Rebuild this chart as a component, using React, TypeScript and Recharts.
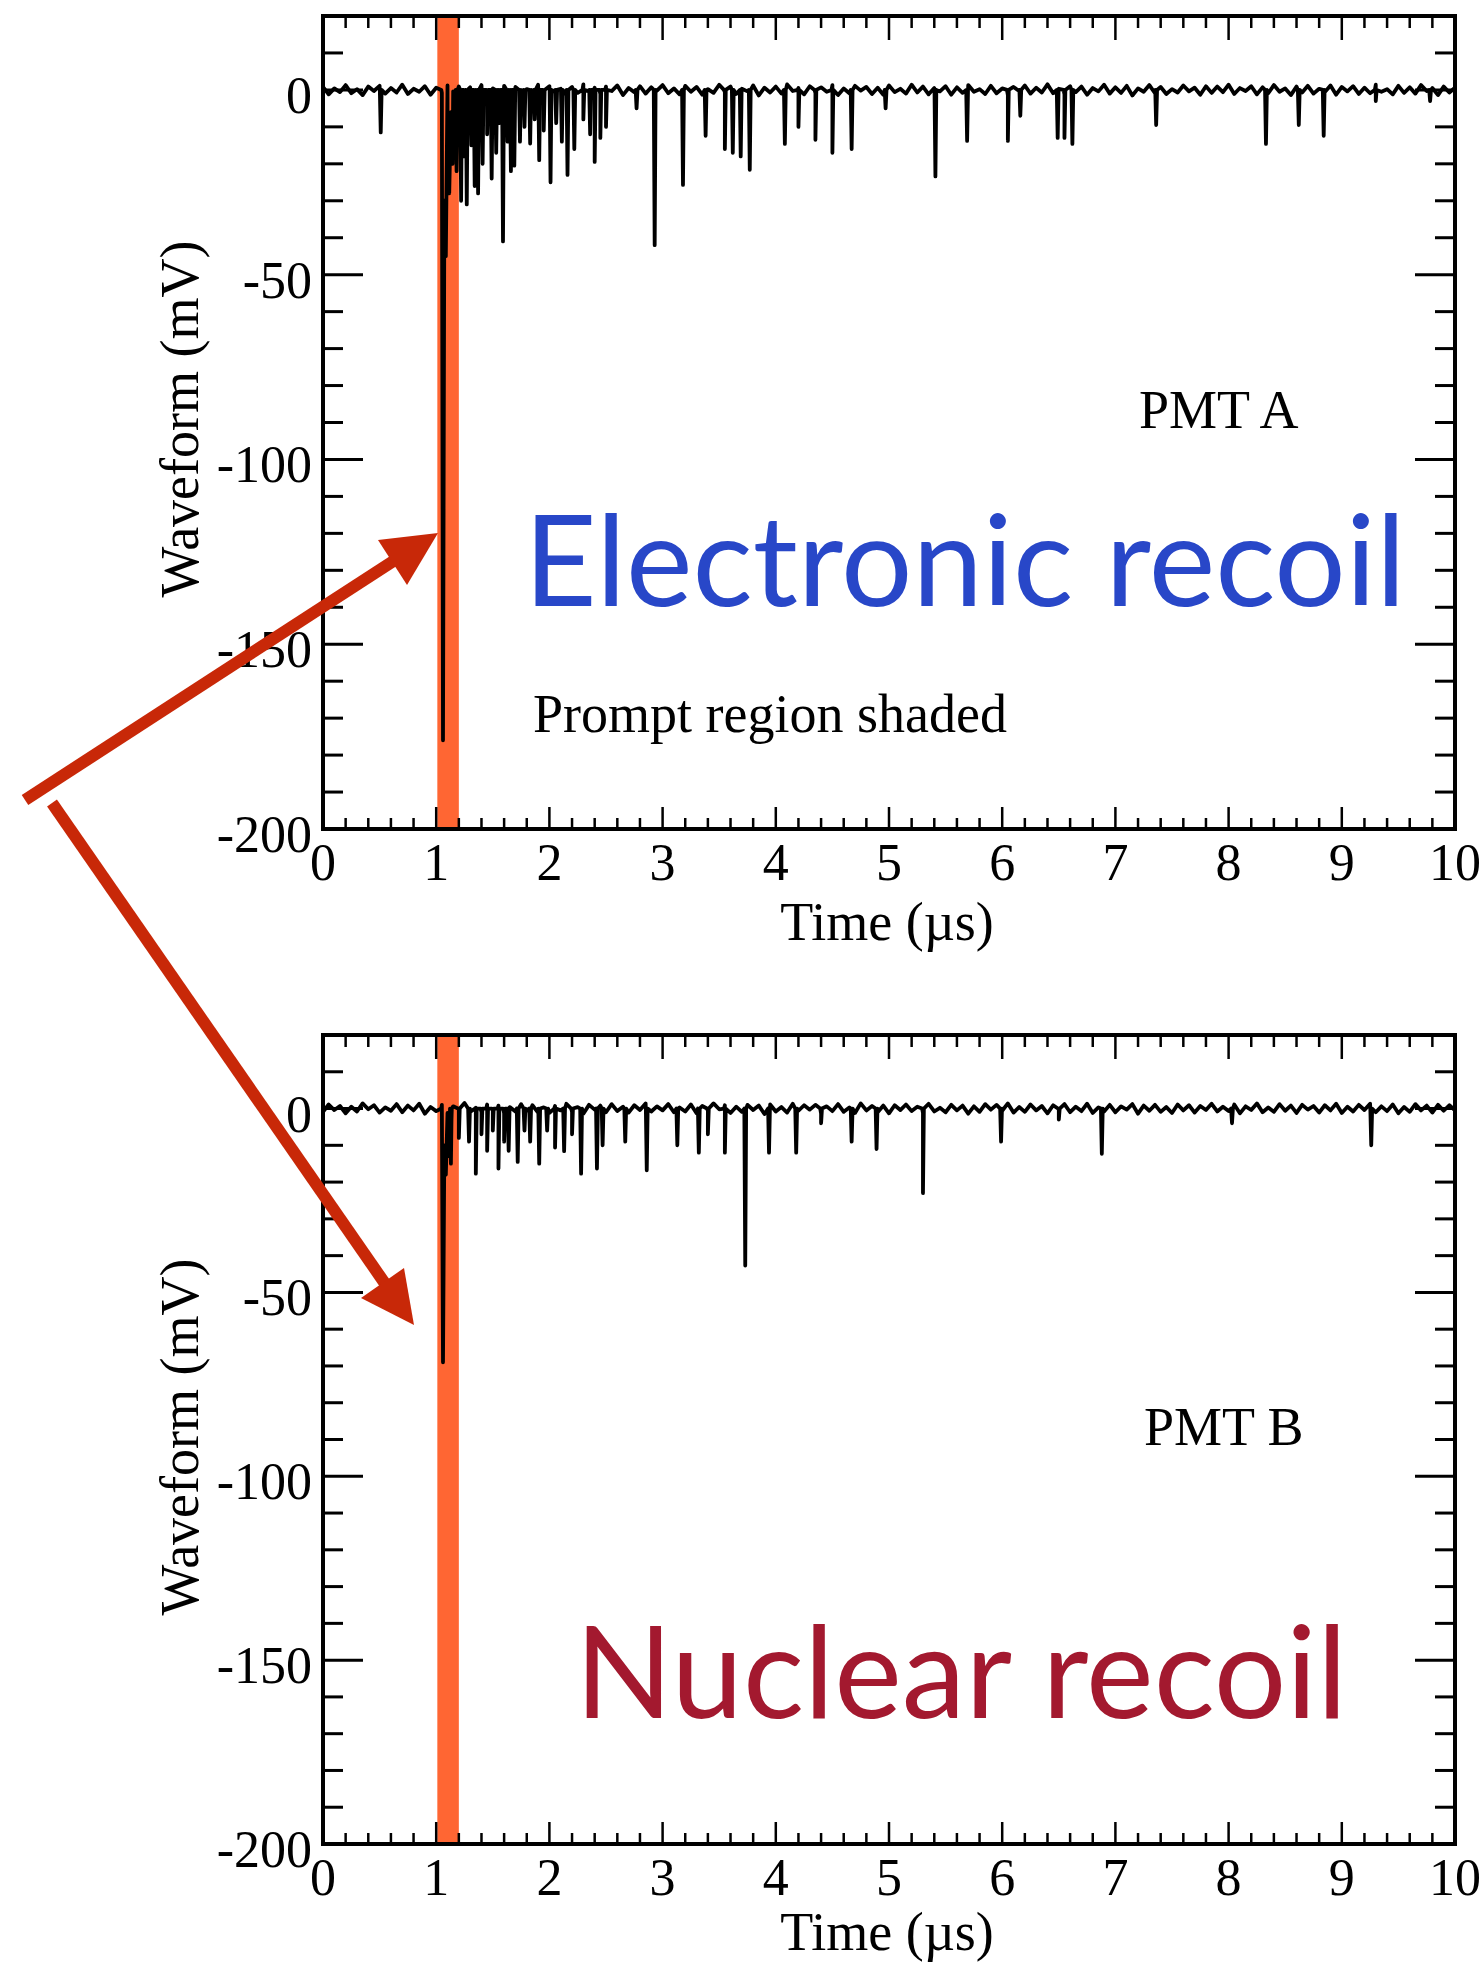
import React from "react";
import { LineChart, Line, XAxis, YAxis, ReferenceArea } from "recharts";

// time axis (µs): minor ticks every 0.2, labels on the integers
const X_TICKS = [
  0, 0.2, 0.4, 0.6, 0.8, 1, 1.2, 1.4, 1.6, 1.8, 2, 2.2, 2.4, 2.6, 2.8, 3, 3.2, 3.4, 3.6, 3.8, 4,
  4.2, 4.4, 4.6, 4.8, 5, 5.2, 5.4, 5.6, 5.8, 6, 6.2, 6.4, 6.6, 6.8, 7, 7.2, 7.4, 7.6, 7.8, 8,
  8.2, 8.4, 8.6, 8.8, 9, 9.2, 9.4, 9.6, 9.8, 10,
];
const X_LABELS = [0, 1, 2, 3, 4, 5, 6, 7, 8, 9, 10];
// waveform axis (mV): minor ticks every 10, labels every 50
const Y_TICKS = [20, 10, 0, -10, -20, -30, -40, -50, -60, -70, -80, -90, -100, -110, -120, -130, -140, -150, -160, -170, -180, -190, -200];
const Y_LABELS = [0, -50, -100, -150, -200];
const PROMPT_WINDOW = [1.01, 1.2];

// baseline noise, one sample every 0.05 µs (mV)
const NOISE_A = [
  0.8, -1.2, 0.4, -0.6, 1.3, -0.9, 0.2, -1.4, 0.9, -0.3, 1.1, -1.0, 0.5, -0.7, 1.4, -1.1, 0.3, -0.5, 1.0, -1.3,
  0.6, -0.8, 1.2, -0.4, 0.9, -1.5, 0.7, -0.2, 1.3, -1.0, 0.4, -0.9, 1.1, -0.6, 0.8, -1.2, 0.2, -0.7, 1.4, -0.9,
  1.0, -0.5, 0.3, -1.3, 0.8, -0.8, 1.5, -0.4, 0.6, -1.1, 0.9, -0.3, 1.2, -1.4, 0.5, -0.6, 1.0, -1.0, 0.7, -0.2,
  1.3, -0.9, 0.4, -1.2, 1.1, -0.5, 0.8, -1.3, 0.2, -0.8, 1.4, -0.6, 0.9, -1.1, 0.3, -0.4, 1.2, -1.5, 0.6, -0.7,
  0.9, -1.0, 1.5, -0.3, 0.5, -1.2, 1.0, -0.8, 0.7, -0.5, 1.3, -1.4, 0.4, -0.9, 1.1, -0.2, 0.8, -1.1, 0.6, -1.3,
  1.2, -0.6, 0.3, -1.0, 1.4, -0.7, 0.9, -1.2, 0.5, -0.4, 1.0, -1.3, 0.7, -0.8, 1.3, -0.5, 0.2, -1.1, 1.1, -0.9,
  0.4, -1.4, 0.8, -0.3, 1.2, -1.0, 0.6, -0.7, 1.5, -0.9, 0.3, -1.2, 1.0, -0.6, 0.9, -1.3, 0.5, -0.4, 1.4, -1.0,
  0.7, -0.8, 1.1, -1.5, 0.4, -0.5, 1.3, -0.9, 0.8, -1.1, 0.2, -0.7, 1.2, -0.4, 0.6, -1.3, 1.0, -0.8, 0.9, -0.6,
  1.4, -1.1, 0.5, -0.3, 1.0, -1.2, 0.7, -0.9, 1.3, -0.5, 0.4, -1.4, 0.9, -0.7, 1.1, -1.0, 0.3, -0.6, 1.2, -1.3,
  0.8, -0.4, 1.0, -1.1, 0.6, -0.9, 1.4, -0.5, 0.2, -1.2, 1.1, -0.8, 0.7, -1.0, 1.3, -0.3, 0.5, -1.4, 0.9, -0.7,
  0.6,
];
const NOISE_B = [
  -0.9, 1.1, -0.4, 0.7, -1.3, 0.5, -0.8, 1.4, -0.2, 0.9, -1.1, 0.3, -0.6, 1.2, -1.0, 0.8, -0.5, 1.3, -1.4, 0.4,
  -0.7, 1.0, -1.2, 0.6, -0.3, 1.5, -0.9, 0.2, -1.0, 1.1, -0.5, 0.8, -1.3, 0.4, -0.8, 1.2, -0.6, 0.9, -1.1, 0.3,
  -1.2, 0.7, -0.5, 1.3, -0.9, 0.4, -1.4, 1.0, -0.3, 0.8, -1.0, 1.2, -0.7, 0.5, -1.1, 0.9, -0.4, 1.4, -0.8, 0.6,
  -0.5, 1.2, -1.0, 0.3, -0.8, 1.1, -1.3, 0.7, -0.6, 1.4, -0.2, 0.9, -1.2, 0.5, -0.9, 1.0, -0.4, 0.8, -1.5, 1.1,
  -0.8, 0.4, -1.1, 1.3, -0.6, 0.9, -0.3, 1.0, -1.4, 0.6, -0.7, 1.2, -0.9, 0.3, -1.2, 1.4, -0.5, 0.7, -1.0, 0.8,
  -1.3, 0.9, -0.4, 1.1, -0.7, 0.5, -1.2, 1.3, -0.8, 0.2, -1.0, 1.0, -0.5, 0.8, -1.4, 0.6, -0.9, 1.2, -0.3, 1.0,
  -0.6, 1.4, -1.1, 0.4, -0.9, 1.1, -0.5, 0.7, -1.3, 0.9, -0.2, 1.2, -1.0, 0.5, -0.7, 1.3, -1.2, 0.3, -0.8, 1.0,
  -1.0, 0.6, -0.3, 1.2, -1.4, 0.8, -0.6, 1.0, -0.9, 0.4, -1.2, 1.1, -0.5, 0.9, -1.1, 0.7, -0.4, 1.3, -0.8, 0.5,
  -0.7, 1.1, -1.3, 0.6, -0.4, 1.4, -1.0, 0.3, -0.9, 1.2, -0.6, 0.8, -1.2, 1.0, -0.3, 0.7, -1.1, 0.9, -0.5, 1.3,
  -1.2, 0.5, -0.8, 1.0, -0.4, 1.3, -1.0, 0.6, -0.7, 1.1, -1.3, 0.4, -0.9, 1.2, -0.5, 0.8, -1.1, 1.0, -0.6, 0.9,
  -0.5,
];

// prompt pulse shape [t µs, mV]
const PROMPT_A = [[1.045, 0], [1.06, -176], [1.072, -30], [1.085, -45], [1.1, -12], [1.115, -28], [1.13, -6], [1.145, -20], [1.16, -3]];
const PROMPT_B = [[1.045, 0], [1.06, -69], [1.072, -10], [1.085, -18], [1.1, -5], [1.115, -13], [1.135, -3]];

// single photoelectron pulses [t µs, depth mV]
const PULSES_A = [
  [0.51, -11.5], [1.18, -22], [1.22, -30], [1.25, -18], [1.27, -31], [1.31, -15], [1.34, -26], [1.37, -28],
  [1.41, -20], [1.45, -12], [1.49, -24], [1.53, -17], [1.56, -9], [1.59, -41], [1.63, -14], [1.66, -22],
  [1.69, -20.5], [1.74, -14], [1.78, -10], [1.83, -14.5], [1.87, -8], [1.91, -19], [1.95, -11], [2.01, -25],
  [2.06, -9], [2.11, -14], [2.16, -23], [2.22, -16], [2.3, -8], [2.36, -12], [2.4, -19.5], [2.45, -13],
  [2.5, -10], [2.77, -5], [2.93, -42], [3.18, -25.7], [3.38, -12.4], [3.55, -16], [3.62, -17], [3.69, -18],
  [3.77, -21.6], [4.08, -14.6], [4.2, -10], [4.35, -13.5], [4.5, -17], [4.67, -16], [4.97, -5], [5.41, -23.4],
  [5.69, -13.8], [6.05, -13.8], [6.16, -7], [6.49, -13], [6.55, -13], [6.62, -14.6], [7.36, -9.5],
  [8.33, -14.6], [8.62, -9.5], [8.84, -12.4], [9.3, -3], [9.78, -3],
];
const PULSES_B = [
  [1.13, -15], [1.2, -8], [1.29, -9], [1.35, -17.7], [1.4, -7], [1.45, -11.5], [1.5, -6], [1.55, -16.3],
  [1.6, -9], [1.64, -11.5], [1.72, -14.5], [1.78, -6], [1.83, -9], [1.91, -15], [1.98, -6], [2.05, -10.6],
  [2.13, -11.6], [2.2, -7], [2.28, -17.7], [2.42, -16.3], [2.47, -10], [2.67, -9], [2.86, -16.8], [3.13, -10],
  [3.32, -12], [3.4, -7], [3.55, -12], [3.73, -42.7], [3.94, -12], [4.18, -12], [4.4, -4], [4.67, -9],
  [4.89, -11], [5.3, -23], [5.99, -9], [6.5, -3], [6.88, -12.3], [8.03, -4], [9.26, -10],
];

const SERIF = "'Liberation Serif', 'Times New Roman', serif";
const SANS = "Lato, 'Open Sans', sans-serif";
const ARROW_RED = "#c82808";

function buildTrace(noise: number[], prompt: number[][], pulses: number[][]) {
  const pts = noise.map((v, i) => ({ t: Math.round(i * 5) / 100, v }));
  prompt.forEach(([t, v]) => pts.push({ t, v }));
  pulses.forEach(([t, v]) => {
    pts.push({ t: t - 0.008, v: 0 }, { t, v }, { t: t + 0.008, v: 0 });
  });
  return pts.sort((a, b) => a.t - b.t);
}

const traceA = buildTrace(NOISE_A, PROMPT_A, PULSES_A);
const traceB = buildTrace(NOISE_B, PROMPT_B, PULSES_B);

const isLabel = (v: number, labels: number[]) => labels.includes(v);

const BottomTick = (p: any) => {
  const major = isLabel(p.payload.value, X_LABELS);
  return (
    <g>
      <line x1={p.x} x2={p.x} y1={p.y} y2={p.y - (major ? 22 : 11)} stroke="#000" strokeWidth={2.5} />
      {major && (
        <text x={p.x} y={p.y + 51} textAnchor="middle" fontFamily={SERIF} fontSize={52} fill="#000">
          {p.payload.value}
        </text>
      )}
    </g>
  );
};

const TopTick = (p: any) => {
  const major = isLabel(p.payload.value, X_LABELS);
  return <line x1={p.x} x2={p.x} y1={p.y} y2={p.y + (major ? 24 : 12)} stroke="#000" strokeWidth={2.5} />;
};

const LeftTick = (p: any) => {
  const major = isLabel(p.payload.value, Y_LABELS);
  return (
    <g>
      <line x1={p.x} x2={p.x + (major ? 40 : 20)} y1={p.y} y2={p.y} stroke="#000" strokeWidth={3} />
      {major && (
        <text x={p.x - 11} y={p.y + 23} textAnchor="end" fontFamily={SERIF} fontSize={52} fill="#000">
          {p.payload.value}
        </text>
      )}
    </g>
  );
};

const RightTick = (p: any) => {
  const major = isLabel(p.payload.value, Y_LABELS);
  return <line x1={p.x} x2={p.x - (major ? 40 : 20)} y1={p.y} y2={p.y} stroke="#000" strokeWidth={3} />;
};

const frame = { stroke: "#000", strokeWidth: 4, strokeLinecap: "square" as const };

function WaveformPanel({ data, bottom }: { data: { t: number; v: number }[]; bottom: number }) {
  return (
    <LineChart width={1481} height={900} data={data} margin={{ top: 15, right: 25, bottom, left: 322 }}>
      <XAxis
        dataKey="t"
        type="number"
        domain={[0, 10]}
        allowDataOverflow
        ticks={X_TICKS}
        interval={0}
        height={1}
        tickSize={0}
        tickMargin={0}
        tickLine={false}
        axisLine={frame}
        tick={BottomTick}
      />
      <XAxis
        xAxisId="top"
        orientation="top"
        dataKey="t"
        type="number"
        domain={[0, 10]}
        allowDataOverflow
        ticks={X_TICKS}
        interval={0}
        height={1}
        tickSize={0}
        tickMargin={0}
        tickLine={false}
        axisLine={frame}
        tick={TopTick}
      />
      <YAxis
        type="number"
        domain={[-200, 20]}
        allowDataOverflow
        ticks={Y_TICKS}
        interval={0}
        width={1}
        tickSize={0}
        tickMargin={0}
        tickLine={false}
        axisLine={frame}
        tick={LeftTick}
      />
      <YAxis
        yAxisId="right"
        orientation="right"
        dataKey="v"
        type="number"
        domain={[-200, 20]}
        allowDataOverflow
        ticks={Y_TICKS}
        interval={0}
        width={1}
        tickSize={0}
        tickMargin={0}
        tickLine={false}
        axisLine={frame}
        tick={RightTick}
      />
      <ReferenceArea
        x1={PROMPT_WINDOW[0]}
        x2={PROMPT_WINDOW[1]}
        y1={-200}
        y2={20}
        fill="#ff6633"
        fillOpacity={1}
        stroke="none"
        ifOverflow="hidden"
      />
      <Line
        dataKey="v"
        type="linear"
        stroke="#000"
        strokeWidth={3.8}
        strokeLinejoin="round"
        dot={false}
        activeDot={false}
        isAnimationActive={false}
      />
    </LineChart>
  );
}

export default function App() {
  return (
    <div style={{ position: "absolute", left: 0, top: 0, width: 1481, height: 1967, background: "#fff" }}>
      <div style={{ position: "absolute", left: 0, top: 0 }}>
        <WaveformPanel data={traceA} bottom={70} />
      </div>
      <div style={{ position: "absolute", left: 0, top: 1019 }}>
        <WaveformPanel data={traceB} bottom={74} />
      </div>
      <svg
        width={1481}
        height={1967}
        style={{ position: "absolute", left: 0, top: 0, pointerEvents: "none" }}
      >
        {/* axis titles */}
        <text transform="translate(198,419) rotate(-90)" textAnchor="middle" fontFamily={SERIF} fontSize={54}>
          Waveform (mV)
        </text>
        <text transform="translate(198,1437) rotate(-90)" textAnchor="middle" fontFamily={SERIF} fontSize={54}>
          Waveform (mV)
        </text>
        <text x={887} y={940} textAnchor="middle" fontFamily={SERIF} fontSize={54}>
          Time (µs)
        </text>
        <text x={887} y={1950} textAnchor="middle" fontFamily={SERIF} fontSize={54}>
          Time (µs)
        </text>

        {/* panel notes */}
        <text x={1139} y={428} fontFamily={SERIF} fontSize={54}>PMT A</text>
        <text x={533} y={732} fontFamily={SERIF} fontSize={54}>Prompt region shaded</text>
        <text x={1144} y={1445} fontFamily={SERIF} fontSize={54}>PMT B</text>

        <text x={524} y={606} fontFamily={SANS} fontSize={126} fill="#2847c8">Electronic recoil</text>
        <text x={575} y={1718} fontFamily={SANS} fontSize={128} fill="#a3192f">Nuclear recoil</text>

        {/* arrows */}
        <line x1={25} y1={800} x2={395} y2={560} stroke={ARROW_RED} strokeWidth={12} />
        <polygon points="438,533 378,540 407,585" fill={ARROW_RED} />
        <line x1={52} y1={803} x2={386} y2={1285} stroke={ARROW_RED} strokeWidth={12} />
        <polygon points="414,1325 361,1298 404,1268" fill={ARROW_RED} />
      </svg>
    </div>
  );
}
